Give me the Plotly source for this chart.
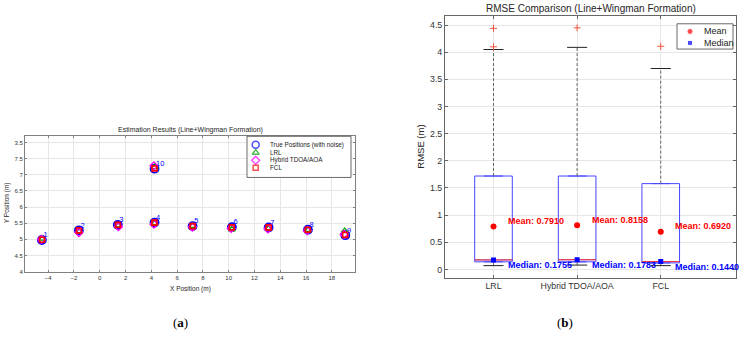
import plotly.graph_objects as go

W, H = 744, 345

# ---------------- Panel (a) data ----------------
point_ids = ['1', '2', '3', '4', '5', '6', '7', '8', '9', '10']
true_x = [-4.49, -1.62, 1.40, 4.25, 7.20, 10.25, 13.10, 16.15, 19.05, 4.25]
true_y = [4.98, 5.28, 5.45, 5.52, 5.41, 5.38, 5.37, 5.30, 5.13, 7.19]
lrl_x = [-4.45, -1.60, 1.42, 4.27, 7.22, 10.25, 13.08, 16.15, 19.00, 4.27]
lrl_y = [5.02, 5.24, 5.43, 5.50, 5.42, 5.31, 5.33, 5.29, 5.26, 7.24]
hyb_x = [-4.52, -1.62, 1.45, 4.20, 7.18, 10.20, 13.05, 16.10, 18.95, 4.20]
hyb_y = [5.00, 5.21, 5.39, 5.47, 5.38, 5.34, 5.32, 5.27, 5.16, 7.28]
fcl_x = [-4.48, -1.61, 1.41, 4.24, 7.20, 10.24, 13.10, 16.14, 19.04, 4.25]
fcl_y = [4.99, 5.28, 5.45, 5.52, 5.41, 5.37, 5.37, 5.30, 5.14, 7.20]
x_ticks_a = [-4, -2, 0, 2, 4, 6, 8, 10, 12, 14, 16, 18]
x_ticktext_a = ['\u22124', '\u22122', '0', '2', '4', '6', '8', '10', '12', '14', '16', '18']
y_ticks_a = [4, 4.5, 5, 5.5, 6, 6.5, 7, 7.5, 8]
y_ticktext_a = ['4', '4.5', '5', '5.5', '6', '6.5', '7', '7.5', '3.5']
legend_a_labels = ['True Positions (with noise)', 'LRL', 'Hybrid TDOA/AOA', 'FCL']

# ---------------- Panel (b) data ----------------
methods = ['LRL', 'Hybrid TDOA/AOA', 'FCL']
q1 = [0.14, 0.14, 0.12]
median = [0.1755, 0.1783, 0.1440]
q3 = [1.72, 1.72, 1.58]
lower_whisker = [0.07, 0.08, 0.07]
upper_whisker = [4.05, 4.09, 3.70]
outliers = [[4.10, 4.44], [4.45], [4.11]]
mean = [0.7910, 0.8158, 0.6920]
y_ticks_b = [0, 0.5, 1, 1.5, 2, 2.5, 3, 3.5, 4, 4.5]
legend_b_labels = ['Mean', 'Median']

FONT = 'Liberation Sans'
BLUE, GREEN, MAG, RED = '#0000ff', '#00a000', '#ff00ff', '#ff0000'

fig = go.Figure()

# ---------- panel (a) traces ----------
fig.add_trace(go.Scatter(x=true_x, y=true_y, mode='markers', xaxis='x', yaxis='y',
                         marker=dict(symbol='circle-open', size=8, color=BLUE, line=dict(width=1.8, color=BLUE)),
                         showlegend=False, hoverinfo='skip'))
fig.add_trace(go.Scatter(x=lrl_x, y=lrl_y, mode='markers', xaxis='x', yaxis='y',
                         marker=dict(symbol='triangle-up-open', size=6, color=GREEN, line=dict(width=1.3, color=GREEN)),
                         showlegend=False, hoverinfo='skip'))
fig.add_trace(go.Scatter(x=hyb_x, y=hyb_y, mode='markers', xaxis='x', yaxis='y',
                         marker=dict(symbol='diamond-open', size=6, color=MAG, line=dict(width=1.3, color=MAG)),
                         showlegend=False, hoverinfo='skip'))
fig.add_trace(go.Scatter(x=fcl_x, y=fcl_y, mode='markers', xaxis='x', yaxis='y',
                         marker=dict(symbol='square-open', size=5, color=RED, line=dict(width=1.6, color=RED)),
                         showlegend=False, hoverinfo='skip'))
fig.add_trace(go.Scatter(x=[v + 0.12 for v in true_x], y=[v + 0.14 for v in true_y], mode='text',
                         xaxis='x', yaxis='y', text=point_ids, textposition='middle right',
                         textfont=dict(family=FONT, size=7.5, color=BLUE),
                         showlegend=False, hoverinfo='skip'))

# ---------- panel (b) traces ----------
for i, m in enumerate(methods):
    c = i + 1
    fig.add_trace(go.Box(x=[c], q1=[q1[i]], median=[median[i]], q3=[q3[i]],
                         lowerfence=[q1[i]], upperfence=[q3[i]], width=0.45,
                         xaxis='x2', yaxis='y2', line=dict(color='rgb(70,70,255)', width=1),
                         fillcolor='rgba(0,0,0,0)', boxpoints=False, showlegend=False,
                         hoverinfo='skip'))

wx, wy, cx, cy, mx, my, ox, oy = [], [], [], [], [], [], [], []
for i in range(len(methods)):
    c = i + 1
    wx += [c, c, None, c, c, None]
    wy += [q3[i], upper_whisker[i], None, lower_whisker[i], q1[i], None]
    cx += [c - 0.12, c + 0.12, None, c - 0.12, c + 0.12, None]
    cy += [upper_whisker[i], upper_whisker[i], None, lower_whisker[i], lower_whisker[i], None]
    mx += [c - 0.225, c + 0.225, None]
    my += [median[i], median[i], None]
    for o in outliers[i]:
        ox.append(c)
        oy.append(o)

fig.add_trace(go.Scatter(x=wx, y=wy, mode='lines', xaxis='x2', yaxis='y2',
                         line=dict(color='#666666', width=1, dash='3px,2px'),
                         showlegend=False, hoverinfo='skip'))
fig.add_trace(go.Scatter(x=cx, y=cy, mode='lines', xaxis='x2', yaxis='y2',
                         line=dict(color='#222222', width=1),
                         showlegend=False, hoverinfo='skip'))
fig.add_trace(go.Scatter(x=mx, y=my, mode='lines', xaxis='x2', yaxis='y2',
                         line=dict(color='#ff3333', width=1),
                         showlegend=False, hoverinfo='skip'))
fig.add_trace(go.Scatter(x=ox, y=oy, mode='markers', xaxis='x2', yaxis='y2',
                         marker=dict(symbol='cross-thin-open', size=5, line=dict(color='#ff5050', width=1)),
                         showlegend=False, hoverinfo='skip'))
fig.add_trace(go.Scatter(x=[1, 2, 3], y=mean, mode='markers', xaxis='x2', yaxis='y2',
                         marker=dict(symbol='circle', size=6, color=RED),
                         showlegend=False, hoverinfo='skip'))
fig.add_trace(go.Scatter(x=[1, 2, 3], y=median, mode='markers', xaxis='x2', yaxis='y2',
                         marker=dict(symbol='square', size=5, color=BLUE),
                         showlegend=False, hoverinfo='skip'))

annotations = []
for i in range(len(methods)):
    c = i + 1
    annotations.append(dict(x=c + 0.15, y=mean[i] + 0.1, xref='x2', yref='y2',
                            text='<b>Mean: %.4f</b>' % mean[i], showarrow=False,
                            xanchor='left', yanchor='middle',
                            font=dict(family=FONT, size=9, color=RED)))
    annotations.append(dict(x=c + 0.15, y=median[i] - 0.1, xref='x2', yref='y2',
                            text='<b>Median: %.4f</b>' % median[i], showarrow=False,
                            xanchor='left', yanchor='middle',
                            font=dict(family=FONT, size=9, color=BLUE)))

# ---------- manual legends (overlay pixel axis x3/y3) ----------
leg_a_y = [146, 154, 161.7, 169.3]
fig.add_trace(go.Scatter(x=[255.7] * 4, y=leg_a_y, mode='markers', xaxis='x3', yaxis='y3',
                         marker=dict(symbol=['circle-open', 'triangle-up-open', 'diamond-open', 'square-open'],
                                     size=[7, 6, 6, 5], color=[BLUE, GREEN, MAG, RED],
                                     line=dict(width=1.5, color=[BLUE, GREEN, MAG, RED])),
                         showlegend=False, hoverinfo='skip'))
for lab, yy in zip(legend_a_labels, leg_a_y):
    annotations.append(dict(x=268, y=yy, xref='x3', yref='y3', text=lab, showarrow=False,
                            xanchor='left', yanchor='middle',
                            font=dict(family=FONT, size=6.3, color='#222')))
leg_b_y = [31.7, 43.3]
fig.add_trace(go.Scatter(x=[690, 690], y=leg_b_y, mode='markers', xaxis='x3', yaxis='y3',
                         marker=dict(symbol=['circle', 'square'], size=[6, 5], color=[RED, BLUE]),
                         showlegend=False, hoverinfo='skip'))
for lab, yy in zip(legend_b_labels, leg_b_y):
    annotations.append(dict(x=702, y=yy, xref='x3', yref='y3', text=lab, showarrow=False,
                            xanchor='left', yanchor='middle',
                            font=dict(family=FONT, size=9, color='#222')))

shapes = [
    dict(type='rect', xref='x3', yref='y3', x0=247, x1=351, y0=137.5, y1=179,
         line=dict(color='#444', width=0.8), fillcolor='white', layer='below'),
    dict(type='rect', xref='x3', yref='y3', x0=677, x1=733, y0=24, y1=49.5,
         line=dict(color='#444', width=0.8), fillcolor='white', layer='below'),
]

# ---------- titles / labels ----------
def px(xp, yp):
    return xp / W, 1 - yp / H

for txt, xp, yp, size, ang in [
    ('Estimation Results (Line+Wingman Formation)', 190, 131.5, 7, 0),
    ('X Position (m)', 190, 292, 6.5, 0),
    ('Y Position (m)', 7, 205, 6.5, -90),
    ('RMSE Comparison (Line+Wingman Formation)', 590.5, 9, 10, 0),
    ('RMSE (m)', 421, 148, 9.5, -90),
]:
    x, y = px(xp, yp)
    annotations.append(dict(x=x, y=y, xref='paper', yref='paper', text=txt, showarrow=False,
                            xanchor='center', yanchor='middle', textangle=ang,
                            font=dict(family=FONT, size=size, color='#262626')))
for txt, xp, yp in [('(<b>a</b>)', 180, 325), ('(<b>b</b>)', 565, 325)]:
    x, y = px(xp, yp)
    annotations.append(dict(x=x, y=y, xref='paper', yref='paper', text=txt, showarrow=False,
                            xanchor='center', yanchor='middle',
                            font=dict(family='Liberation Serif', size=13, color='#000')))

axis_common = dict(showline=True, mirror='ticks', ticks='inside', zeroline=False,
                   showgrid=True)

fig.update_layout(
    width=W, height=H, margin=dict(l=0, r=0, t=0, b=0),
    paper_bgcolor='white', plot_bgcolor='rgba(0,0,0,0)', showlegend=False,
    xaxis=dict(domain=[25 / W, 355 / W], range=[-5.8, 19.8], tickvals=x_ticks_a, ticktext=x_ticktext_a,
               linecolor='#808080', linewidth=1, gridcolor='#e6e6e6', ticklen=2, tickcolor='#808080',
               tickfont=dict(family=FONT, size=6, color='#333'), anchor='y', **axis_common),
    yaxis=dict(domain=[1 - 274 / H, 1 - 137 / H], range=[4, 8.21], tickvals=y_ticks_a, ticktext=y_ticktext_a,
               linecolor='#808080', linewidth=1, gridcolor='#e6e6e6', ticklen=2, tickcolor='#808080',
               tickfont=dict(family=FONT, size=6, color='#333'), anchor='x', **axis_common),
    xaxis2=dict(domain=[445 / W, 736 / W], range=[0.42, 3.9], tickvals=[1, 2, 3], ticktext=methods,
                linecolor='#666', linewidth=1, gridcolor='#e6e6e6', ticklen=3, tickcolor='#666',
                tickfont=dict(family=FONT, size=8.8, color='#333'), anchor='y2', **axis_common),
    yaxis2=dict(domain=[1 - 280 / H, 1 - 16 / H], range=[-0.15, 4.67], tickvals=y_ticks_b,
                linecolor='#666', linewidth=1, gridcolor='#e6e6e6', ticklen=3, tickcolor='#666',
                tickfont=dict(family=FONT, size=8.8, color='#333'), anchor='x2', **axis_common),
    xaxis3=dict(domain=[0, 1], range=[0, W], visible=False, anchor='y3', fixedrange=True),
    yaxis3=dict(domain=[0, 1], range=[H, 0], visible=False, anchor='x3', fixedrange=True),
    annotations=annotations, shapes=shapes,
)

fig.write_html('out.html')
